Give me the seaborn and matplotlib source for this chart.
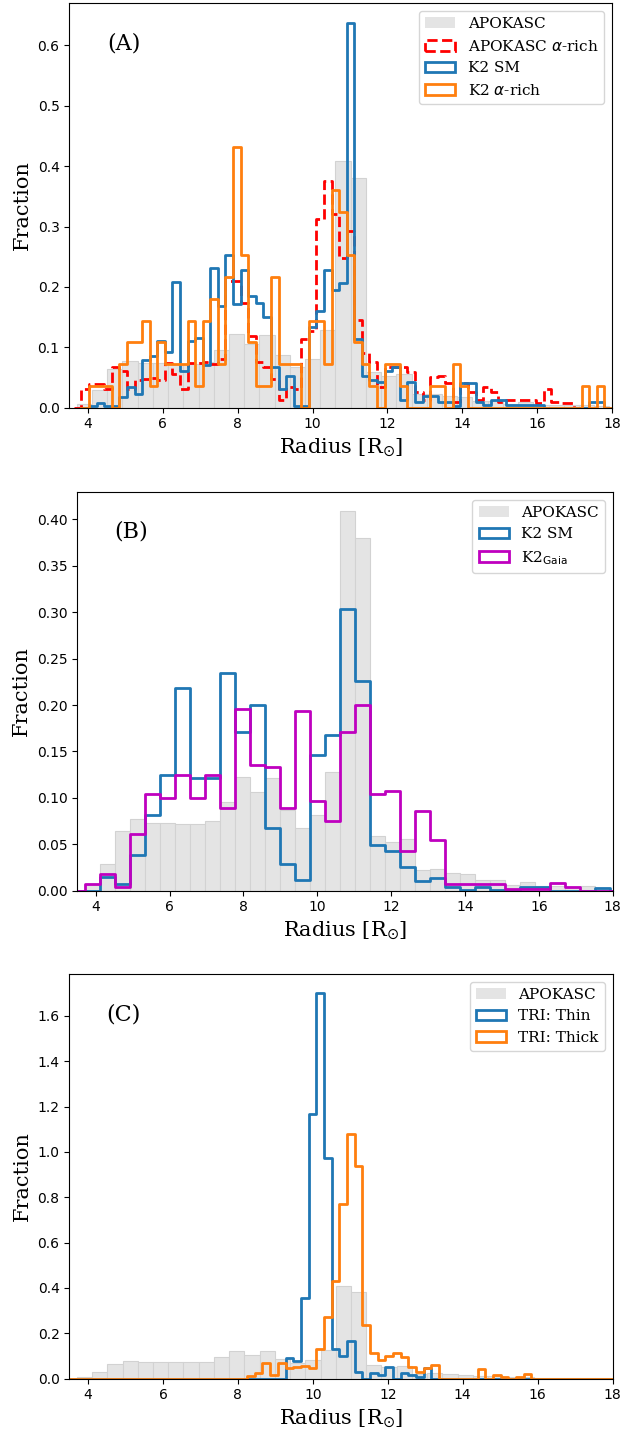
import numpy as np
import matplotlib
matplotlib.use("Agg")
import matplotlib.pyplot as plt
from matplotlib.patches import Patch
import seaborn as sns

plt.rcParams['font.family'] = ['DejaVu Sans']
plt.rcParams['font.serif'] = ['DejaVu Serif']
plt.rcParams['mathtext.fontset'] = 'dejavusans'

# ---------------- data ----------------
# APOKASC reference histogram (35 bins, fraction per bin, density normalised)
apokasc_edges = np.linspace(3.70, 17.93, 36)
apokasc_frac = [0.006, 0.029, 0.064, 0.077, 0.073, 0.073, 0.072, 0.072, 0.075, 0.095,
                0.122, 0.106, 0.121, 0.087, 0.068, 0.081, 0.128, 0.409, 0.380, 0.059,
                0.052, 0.056, 0.022, 0.023, 0.019, 0.018, 0.011, 0.011, 0.006, 0.009,
                0.005, 0.005, 0.004, 0.005, 0.003]

# Panel A: fine bins
k2_edges_a = 4.0275 + 0.2025 * np.arange(69)
k2sm_a = [0.003, 0.008, 0.003, 0.003, 0.018, 0.034, 0.022, 0.078, 0.086, 0.111,
          0.092, 0.208, 0.061, 0.111, 0.116, 0.071, 0.232, 0.168, 0.252, 0.172,
          0.228, 0.185, 0.173, 0.150, 0.067, 0.031, 0.053, 0.003, 0.003, 0.134,
          0.160, 0.228, 0.195, 0.207, 0.638, 0.113, 0.053, 0.045, 0.042, 0.061,
          0.067, 0.012, 0.042, 0.009, 0.019, 0.019, 0.009, 0.009, 0.003, 0.040,
          0.040, 0.009, 0.004, 0.013, 0.013, 0.004, 0.004, 0.004, 0.004, 0.004,
          0.0, 0.0, 0.0, 0.0, 0.0, 0.0, 0.009, 0.009]
k2_alpha_counts = [1, 1, 1, 0, 2, 3, 3, 4, 1, 3,
                   2, 2, 2, 4, 1, 4, 5, 2, 6, 12,
                   7, 3, 1, 1, 6, 2, 2, 2, 0, 4,
                   4, 2, 10, 9, 7, 3, 2, 1, 0, 2,
                   2, 1, 0, 0, 0, 1, 1, 0, 2, 1,
                   0, 0, 0, 0, 0, 0, 0, 0, 0, 0,
                   0, 0, 0, 0, 0, 1, 0, 1]
apo_alpha_edges = 3.825 + 0.2025 * np.arange(66)
apo_alpha = [0.030, 0.039, 0.039, 0.031, 0.067, 0.061, 0.031, 0.046, 0.047, 0.049,
             0.046, 0.073, 0.056, 0.031, 0.073, 0.073, 0.075, 0.072, 0.080, 0.210,
             0.210, 0.174, 0.119, 0.075, 0.067, 0.047, 0.013, 0.034, 0.031, 0.113,
             0.127, 0.313, 0.375, 0.320, 0.248, 0.293, 0.145, 0.090, 0.075, 0.034,
             0.067, 0.067, 0.067, 0.059, 0.026, 0.013, 0.050, 0.053, 0.040, 0.010,
             0.040, 0.026, 0.012, 0.034, 0.026, 0.010, 0.012, 0.012, 0.012, 0.012,
             0.008, 0.031, 0.010, 0.007, 0.007]

# Panel B: same bins as APOKASC
k2sm_b = [0.0, 0.015, 0.007, 0.038, 0.082, 0.125, 0.218, 0.121, 0.121, 0.235,
          0.171, 0.200, 0.068, 0.029, 0.0115, 0.146, 0.168, 0.303, 0.226, 0.049,
          0.043, 0.025, 0.010, 0.014, 0.0036, 0.001, 0.0036, 0.001, 0.001, 0.0036,
          0.0036, 0.0, 0.0, 0.0, 0.003]
k2gaia_b = [0.007, 0.0176, 0.0036, 0.061, 0.104, 0.0995, 0.125, 0.0995, 0.125, 0.0887,
            0.196, 0.135, 0.133, 0.0887, 0.193, 0.0966, 0.075, 0.171, 0.200, 0.104,
            0.107, 0.043, 0.086, 0.055, 0.007, 0.007, 0.007, 0.007, 0.0015, 0.0015,
            0.0015, 0.008, 0.004, 0.0, 0.0]

# Panel C: TRILEGAL
tri_edges = 3.53 + 0.205 * np.arange(72)
tri_thin = [0.0] * 28 + [0.09, 0.08, 0.357, 1.168, 1.70, 0.974, 0.129, 0.10, 0.167, 0.031,
                         0.0, 0.026, 0.016, 0.053, 0.0, 0.026, 0.016, 0.006, 0.045] + [0.0] * 24
tri_thick = [0.0] * 23 + [0.012, 0.026, 0.067, 0.016, 0.067, 0.045, 0.053, 0.055, 0.045, 0.129,
                          0.273, 0.43, 0.769, 1.08, 0.94, 0.236, 0.114, 0.082, 0.10, 0.112,
                          0.097, 0.053, 0.03, 0.045, 0.06, 0.0, 0.0, 0.0, 0.0, 0.0,
                          0.041, 0.0, 0.016, 0.009, 0.0, 0.009, 0.019] + [0.0] * 11

# ---------------- style ----------------
GRAY = '#e4e4e4'
GRAY_EDGE = '#d2d2d2'
BLUE = '#1f77b4'
ORANGE = '#ff7f0e'
RED = 'red'
MAG = 'm'
SERIF = 'DejaVu Serif'


def padded(edges, vals):
    edges = np.asarray(edges, float)
    w = np.diff(edges)
    e = np.concatenate([[edges[0] - w[0]], edges, [edges[-1] + w[-1]]])
    v = np.concatenate([[0.0], np.asarray(vals, float), [0.0]])
    c = 0.5 * (e[:-1] + e[1:])
    return e, c, v


def gray_hist(ax):
    e = np.asarray(apokasc_edges, float)
    c = 0.5 * (e[:-1] + e[1:])
    sns.histplot(x=c, weights=np.asarray(apokasc_frac, float), bins=list(e), stat='count',
                 element='bars', fill=True, color=GRAY, edgecolor=GRAY_EDGE,
                 linewidth=0.8, alpha=1, ax=ax)


def step_hist(ax, edges, vals, color, ls='-', stat='count'):
    e, c, v = padded(edges, vals)
    sns.histplot(x=c, weights=v, bins=list(e), stat=stat, element='step', fill=False,
                 color=color, linewidth=2, linestyle=ls, ax=ax)


def finish(ax, tag, handles):
    ax.set_xlim(3.5, 18)
    ax.set_xticks([4, 6, 8, 10, 12, 14, 16, 18])
    ax.set_xlabel(r'Radius [R$_{\odot}$]', family=SERIF, fontsize=15)
    ax.set_ylabel('Fraction', family=SERIF, fontsize=15)
    ax.tick_params(labelsize=10)
    ax.text(0.10, 0.90, tag, transform=ax.transAxes, fontsize=16, family=SERIF,
            ha='center', va='center')
    ax.legend(handles=handles, loc='upper right', prop={'family': SERIF, 'size': 11})


fig = plt.figure(figsize=(6.25, 14.34), dpi=100)
axA = fig.add_axes([0.1109, 0.7158, 0.8683, 0.2819])
axB = fig.add_axes([0.1237, 0.3789, 0.8566, 0.2780])
axC = fig.add_axes([0.1109, 0.0386, 0.8693, 0.2822])

# Panel A
gray_hist(axA)
step_hist(axA, apo_alpha_edges, apo_alpha, RED, ls='--')
step_hist(axA, k2_edges_a, k2sm_a, BLUE)
step_hist(axA, k2_edges_a, k2_alpha_counts, ORANGE, stat='density')
finish(axA, '(A)', [
    Patch(facecolor=GRAY, edgecolor='none', label='APOKASC'),
    Patch(facecolor='none', edgecolor=RED, linestyle='--', linewidth=2, label=r'APOKASC $\alpha$-rich'),
    Patch(facecolor='none', edgecolor=BLUE, linewidth=2, label='K2 SM'),
    Patch(facecolor='none', edgecolor=ORANGE, linewidth=2, label=r'K2 $\alpha$-rich'),
])

# Panel B
gray_hist(axB)
step_hist(axB, apokasc_edges, k2sm_b, BLUE)
step_hist(axB, apokasc_edges, k2gaia_b, MAG)
finish(axB, '(B)', [
    Patch(facecolor=GRAY, edgecolor='none', label='APOKASC'),
    Patch(facecolor='none', edgecolor=BLUE, linewidth=2, label='K2 SM'),
    Patch(facecolor='none', edgecolor=MAG, linewidth=2, label=r'K2$_{\rm Gaia}$'),
])

# Panel C
gray_hist(axC)
step_hist(axC, tri_edges, tri_thin, BLUE)
step_hist(axC, tri_edges, tri_thick, ORANGE)
finish(axC, '(C)', [
    Patch(facecolor=GRAY, edgecolor='none', label='APOKASC'),
    Patch(facecolor='none', edgecolor=BLUE, linewidth=2, label='TRI: Thin'),
    Patch(facecolor='none', edgecolor=ORANGE, linewidth=2, label='TRI: Thick'),
])

fig.savefig('out.png', dpi=100)
